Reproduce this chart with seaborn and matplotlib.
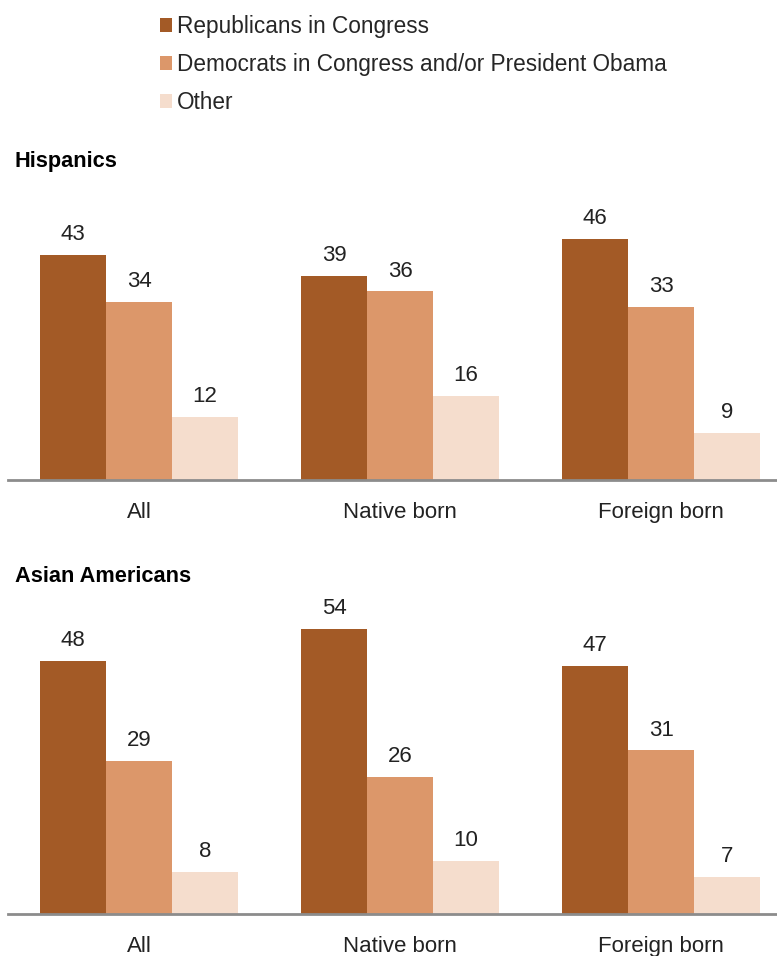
import pandas as pd
import matplotlib
matplotlib.use("Agg")
import matplotlib.pyplot as plt
import seaborn as sns

groups = ["All", "Native born", "Foreign born"]
series = ["Republicans in Congress", "Democrats in Congress and/or President Obama", "Other"]
hisp_rep = [43, 39, 46]
hisp_dem = [34, 36, 33]
hisp_oth = [12, 16, 9]
asian_rep = [48, 54, 47]
asian_dem = [29, 26, 31]
asian_oth = [8, 10, 7]
colors = ["#A35A26", "#DC976A", "#F5DDCD"]


def to_long(rep, dem, oth):
    rows = []
    for s, vals in zip(series, [rep, dem, oth]):
        for g, v in zip(groups, vals):
            rows.append({"group": g, "series": s, "value": v})
    return pd.DataFrame(rows)


sns.set_theme(style="white")
plt.rcParams["font.family"] = ["Liberation Sans", "DejaVu Sans"]

W, H = 777, 956
fig = plt.figure(figsize=(W / 100, H / 100), dpi=100)

# axes placed in pixel coords: baseline_y, top_y, ymax, title_y
panels = [
    ("Hispanics", to_long(hisp_rep, hisp_dem, hisp_oth), 480, 190, 290 / 5.24, 162),
    ("Asian Americans", to_long(asian_rep, asian_dem, asian_oth), 914, 600, 314 / 5.28, 577),
]

for title, df, base, top, ymax, ty in panels:
    ax = fig.add_axes([8 / W, 1 - base / H, 1 - 8 / W, (base - top) / H])
    sns.barplot(data=df, x="group", y="value", hue="series", palette=colors,
                width=0.759, saturation=1, linewidth=0, ax=ax, legend=True)
    ax.set_xlim(-0.502, 2.444)
    ax.set_ylim(0, ymax)
    for c in ax.containers:
        ax.bar_label(c, padding=7, fontsize=16, color="#222222")
    for side in ["top", "right", "left"]:
        ax.spines[side].set_visible(False)
    ax.spines["bottom"].set_color("#8c8c8c")
    ax.spines["bottom"].set_linewidth(2)
    ax.set_yticks([])
    ax.set_xlabel("")
    ax.set_ylabel("")
    ax.tick_params(axis="x", length=0, pad=16, labelsize=16, labelcolor="#222222")
    handles, labels = ax.get_legend_handles_labels()
    ax.get_legend().remove()
    fig.text(15 / W, 1 - ty / H, title, fontsize=15.7, fontweight="bold",
             va="center", ha="left", color="black")

fig.legend(handles, labels, loc="upper left", bbox_to_anchor=(151 / W, 1 - 6 / H),
           frameon=False, fontsize=16.3, handlelength=0.53, handleheight=0.53,
           handletextpad=0.22, labelspacing=0.66, borderaxespad=0)

fig.savefig("out.png", dpi=100)
